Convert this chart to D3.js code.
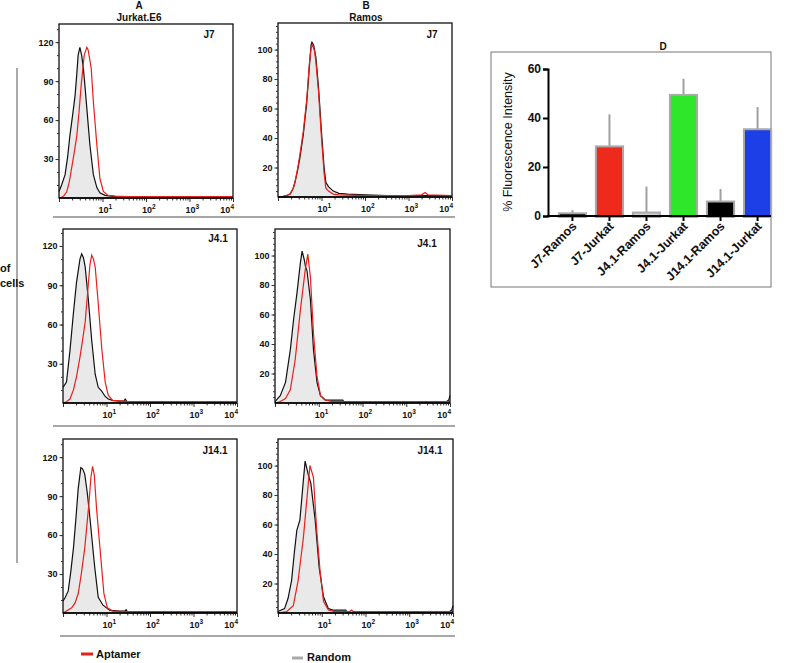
<!DOCTYPE html>
<html><head><meta charset="utf-8">
<script src="https://cdn.jsdelivr.net/npm/d3@7"></script>
<style>body{margin:0;background:#fff} text{font-family:Arial,"Liberation Sans",sans-serif}</style>
</head><body><svg id="c" width="800" height="663"></svg>
<script>
// ---------- DATA ----------
// histogram curves: [log10 fluorescence, number of cells]
const a1Random = [[0,5],[0.06,10],[0.14,18],[0.2,32],[0.25,48],[0.31,63],[0.37,79],[0.41,96],[0.44,110],[0.48,116],[0.52,110],[0.56,100],[0.6,85],[0.64,69],[0.71,41],[0.79,18],[0.87,8],[0.94,4],[1.06,2],[1.2,1.5],[1.3,1],[2,0.5],[4,0.5]];
const a1Aptamer = [[0,0],[0.06,0.5],[0.12,2],[0.18,5],[0.24,13],[0.29,23],[0.35,35],[0.41,48],[0.46,66],[0.51,87],[0.58,110],[0.64,116],[0.67,114],[0.74,100],[0.79,74],[0.87,41],[0.94,15],[1.02,5],[1.13,2],[1.3,1.5],[1.6,1],[4,1]];
const a2Random = [[0,12],[0.08,16],[0.16,40],[0.24,69],[0.31,92],[0.39,110],[0.43,114],[0.47,111],[0.51,104],[0.58,80],[0.66,48],[0.74,22],[0.81,12],[0.89,9],[0.97,5],[1.04,3],[1.14,2],[1.3,1.5],[1.4,1.5],[1.43,3],[1.47,1],[2,0.5],[4,0.5]];
const a2Aptamer = [[0,0],[0.08,1],[0.16,3],[0.24,10],[0.31,20],[0.39,35],[0.45,48],[0.51,62],[0.58,90],[0.62,106],[0.66,113],[0.7,110],[0.74,104],[0.81,76],[0.89,42],[0.97,16],[1.04,6],[1.14,2],[1.5,1],[4,1]];
const a3Random = [[0,9],[0.05,12],[0.12,17],[0.18,32],[0.24,50],[0.3,74],[0.35,96],[0.41,112],[0.45,111],[0.5,107],[0.56,92],[0.62,73],[0.68,52],[0.73,35],[0.81,12],[0.92,6],[1.08,2],[1.3,1.5],[1.42,1.5],[1.45,2.5],[1.48,1],[2,0.5],[4,0.5]];
const a3Aptamer = [[0,0],[0.05,1],[0.2,4],[0.28,8],[0.35,15],[0.42,30],[0.5,50],[0.55,68],[0.6,86],[0.64,104],[0.68,113],[0.72,106],[0.77,81],[0.85,50],[0.94,15],[1.02,4],[1.14,1.5],[1.5,1],[4,1]];
const b1Random = [[0,0],[0.12,0.5],[0.2,1],[0.28,2],[0.35,6],[0.39,10],[0.45,18],[0.5,26],[0.58,42],[0.66,64],[0.72,88],[0.76,103],[0.78,105],[0.82,103],[0.87,95],[0.93,75],[1.0,44],[1.06,20],[1.1,10],[1.16,7],[1.27,4],[1.4,2.5],[1.6,2],[2,1.5],[2.5,1],[3,1],[3.5,1],[4,1]];
const b1Aptamer = [[0,0],[0.12,0.5],[0.2,1],[0.28,2],[0.35,6],[0.39,10],[0.45,19],[0.5,28],[0.58,44],[0.66,66],[0.72,90],[0.76,101],[0.8,103],[0.84,99],[0.87,92],[0.93,72],[1.0,40],[1.06,16],[1.1,6],[1.16,4],[1.27,2],[1.4,1.5],[2,1],[3,1],[3.3,1.5],[3.38,3],[3.45,1.5],[4,1]];
const b2Random = [[0,1],[0.12,5],[0.24,14],[0.35,36],[0.43,58],[0.5,74],[0.58,95],[0.62,103],[0.67,97],[0.7,92],[0.73,90],[0.81,70],[0.88,36],[0.96,14],[1.04,5],[1.15,2],[1.3,2],[1.55,2],[1.58,0.5],[3.9,0.5],[3.97,2],[4,5]];
const b2Aptamer = [[0,0],[0.12,1],[0.24,3],[0.35,9],[0.46,29],[0.58,63],[0.69,90],[0.75,101],[0.81,85],[0.88,47],[0.96,18],[1.04,5],[1.15,2],[1.3,1],[4,1]];
const b3Random = [[0,1],[0.15,3],[0.23,10],[0.31,22],[0.37,40],[0.43,56],[0.5,63],[0.58,90],[0.62,103],[0.69,94],[0.75,88],[0.85,63],[0.94,31],[1.04,11],[1.15,3],[1.26,2],[1.55,2],[1.58,0.5],[3.9,0.5],[3.97,2],[4,5]];
const b3Aptamer = [[0,0],[0.2,1],[0.35,5],[0.46,22],[0.58,51],[0.65,74],[0.73,100],[0.81,92],[0.88,58],[0.96,29],[1.04,8],[1.15,2],[1.3,1],[1.64,1],[1.68,2],[1.72,1],[4,1]];

const histTicksA = [30, 60, 90, 120];
const histTicksB = [20, 40, 60, 80, 100];
const decadeExponents = [1, 2, 3, 4];
const rowTitles = ["J7", "J4.1", "J14.1"];

const barCategories = ["J7-Ramos", "J7-Jurkat", "J4.1-Ramos", "J4.1-Jurkat", "J14.1-Ramos", "J14.1-Jurkat"];
const barValues = [0.7, 28, 1, 49, 5.5, 35];
const barErrors = [1.7, 13.5, 11, 7, 5.5, 9.5];
const barColors = ["#000000", "#ee2a1c", "#cfcfcf", "#2ee62a", "#000000", "#1d3fe8"];
const barTicks = [0, 20, 40, 60];

// ---------- DRAW ----------
const svg = d3.select("#c");
const F = 'Arial,"Liberation Sans",sans-serif';

function histPanel(cfg) {
  const [x0, x1, y0, y1] = cfg.box;
  const x = d3.scaleLog().domain([1, 1e4]).range([x0, x1]);
  const y = d3.scaleLinear().domain([0, cfg.ymax]).range([y1, y0]);
  const g = svg.append("g");
  const area = d3.area().x(d => x(Math.pow(10, d[0]))).y0(y(0)).y1(d => y(d[1]));
  const line = d3.line().x(d => x(Math.pow(10, d[0]))).y(d => y(d[1]));
  g.append("path").datum(cfg.random).attr("d", area).attr("fill", "#e9e9e9");
  g.append("path").datum(cfg.random).attr("d", line).attr("fill", "none").attr("stroke", "#111").attr("stroke-width", 1.2);
  g.append("path").datum(cfg.aptamer).attr("d", line).attr("fill", "none").attr("stroke", "#e8201a").attr("stroke-width", 1.2);
  g.append("rect").attr("x", x0).attr("y", y0).attr("width", x1 - x0).attr("height", y1 - y0)
    .attr("fill", "none").attr("stroke", "#111").attr("stroke-width", 1.3);
  const minor = d3.range(cfg.minorStep, cfg.ymax, cfg.minorStep);
  const ya = g.append("g").attr("transform", `translate(${x0},0)`)
    .call(d3.axisLeft(y).tickValues(minor).tickSize(2).tickFormat(""));
  ya.select(".domain").remove();
  const yb = g.append("g").attr("transform", `translate(${x0},0)`)
    .call(d3.axisLeft(y).tickValues(cfg.ticks).tickSize(3.5).tickPadding(2));
  yb.select(".domain").remove();
  yb.selectAll("text").attr("font-family", F).attr("font-size", 9).attr("font-weight", "bold").attr("fill", "#111");
  const minors = [];
  for (let k = 0; k < 4; k++) for (let m = 2; m <= 9; m++) minors.push(m * Math.pow(10, k));
  const xa = g.append("g").attr("transform", `translate(0,${y1})`)
    .call(d3.axisBottom(x).tickValues(minors).tickSize(2.5).tickFormat(""));
  xa.select(".domain").remove();
  const xb = g.append("g").attr("transform", `translate(0,${y1})`)
    .call(d3.axisBottom(x).tickValues([1, 10, 100, 1000, 10000]).tickSize(4).tickFormat(""));
  xb.select(".domain").remove();
  g.selectAll(".tick line").attr("stroke", "#333");
  g.append("line").attr("x1", x0).attr("x2", x1).attr("y1", y1).attr("y2", y1).attr("stroke", "#000").attr("stroke-width", 1.6);
  decadeExponents.forEach(e => {
    const last = e === 4;
    const t = g.append("text").attr("x", last ? x(Math.pow(10, e)) + 1 : x(Math.pow(10, e)) - 4)
      .attr("y", y1 + 15).attr("text-anchor", last ? "end" : "start")
      .attr("font-family", F).attr("font-size", 9).attr("font-weight", "bold").attr("fill", "#111");
    t.append("tspan").text("10");
    t.append("tspan").attr("dy", -4).attr("font-size", 6.5).text(e);
  });
  g.append("text").attr("x", cfg.labelPos[0]).attr("y", cfg.labelPos[1]).attr("dy", "0.35em")
    .attr("text-anchor", "middle").attr("font-family", F).attr("font-size", 10).attr("font-weight", "bold")
    .attr("fill", "#111").text(cfg.label);
}

const panels = [
  {box: [59, 233, 24, 198], ymax: 134, ticks: histTicksA, minorStep: 10, label: rowTitles[0], labelPos: [209, 34], random: a1Random, aptamer: a1Aptamer},
  {box: [63, 237, 229, 403], ymax: 133, ticks: histTicksA, minorStep: 10, label: rowTitles[1], labelPos: [218, 238], random: a2Random, aptamer: a2Aptamer},
  {box: [63, 237, 439, 613], ymax: 134, ticks: histTicksA, minorStep: 10, label: rowTitles[2], labelPos: [215, 450], random: a3Random, aptamer: a3Aptamer},
  {box: [278, 452, 23, 197], ymax: 118, ticks: histTicksB, minorStep: 4, label: rowTitles[0], labelPos: [432, 34], random: b1Random, aptamer: b1Aptamer},
  {box: [275, 450, 229, 403], ymax: 118, ticks: histTicksB, minorStep: 4, label: rowTitles[1], labelPos: [427, 243], random: b2Random, aptamer: b2Aptamer},
  {box: [278, 453, 439, 613], ymax: 118, ticks: histTicksB, minorStep: 4, label: rowTitles[2], labelPos: [430, 450], random: b3Random, aptamer: b3Aptamer}
];
panels.forEach(histPanel);

function txt(x, y, s, size, weight, anchor) {
  return svg.append("text").attr("x", x).attr("y", y).attr("text-anchor", anchor || "middle")
    .attr("font-family", F).attr("font-size", size).attr("font-weight", weight || "bold").attr("fill", "#111").text(s);
}
txt(139, 9, "A", 10);
txt(139, 21, "Jurkat.E6", 10);
txt(366, 9, "B", 10);
txt(366, 21, "Ramos", 10);

[[53, 455, 217], [53, 455, 426], [60, 455, 636]].forEach(s =>
  svg.append("line").attr("x1", s[0]).attr("x2", s[1]).attr("y1", s[2]).attr("y2", s[2]).attr("stroke", "#8a8a8a").attr("stroke-width", 1.5));

svg.append("line").attr("x1", 17).attr("x2", 17).attr("y1", 68).attr("y2", 563).attr("stroke", "#555").attr("stroke-width", 1);
txt(0, 272, "of", 11, "bold", "start");
txt(0, 287, "cells", 11, "bold", "start");

svg.append("line").attr("x1", 81).attr("x2", 93).attr("y1", 654).attr("y2", 654).attr("stroke", "#e8201a").attr("stroke-width", 3);
txt(96, 658, "Aptamer", 11, "bold", "start");
svg.append("line").attr("x1", 292).attr("x2", 303).attr("y1", 658).attr("y2", 658).attr("stroke", "#aaa").attr("stroke-width", 3);
txt(307, 661, "Random", 11, "bold", "start");

// ---------- panel D ----------
svg.append("rect").attr("x", 491).attr("y", 52).attr("width", 280).attr("height", 235)
  .attr("fill", "none").attr("stroke", "#777").attr("stroke-width", 1);
txt(663, 50, "D", 10);
const bx = d3.scaleBand().domain(barCategories).range([548, 782]).paddingInner(0.32).paddingOuter(0.32);
const by = d3.scaleLinear().domain([0, 60]).range([216, 69]);
const dg = svg.append("g");
dg.selectAll("line.err").data(barCategories).enter().append("line")
  .attr("x1", d => bx(d) + bx.bandwidth() / 2).attr("x2", d => bx(d) + bx.bandwidth() / 2)
  .attr("y1", (d, i) => by(barValues[i])).attr("y2", (d, i) => by(barValues[i] + barErrors[i]))
  .attr("stroke", "#a0a0a0").attr("stroke-width", 2);
dg.selectAll("rect.bar").data(barCategories).enter().append("rect")
  .attr("x", d => bx(d)).attr("width", bx.bandwidth())
  .attr("y", (d, i) => by(barValues[i])).attr("height", (d, i) => by(0) - by(barValues[i]))
  .attr("fill", (d, i) => barColors[i]).attr("stroke", "#aaaaaa").attr("stroke-width", 4)
  .style("paint-order", "stroke");
const dya = dg.append("g").attr("transform", "translate(548,0)")
  .call(d3.axisLeft(by).tickValues(barTicks).tickSize(5).tickPadding(2));
dya.select(".domain").attr("stroke-width", 2);
dya.selectAll(".tick line").attr("stroke-width", 2);
dya.selectAll("text").attr("font-family", F).attr("font-size", 12).attr("font-weight", "bold").attr("fill", "#111");
const dxa = dg.append("g").attr("transform", "translate(0,216)")
  .call(d3.axisBottom(bx).tickSize(5).tickFormat(""));
dxa.select(".domain").remove();
dxa.selectAll(".tick line").attr("stroke-width", 2);
dg.append("line").attr("x1", 547).attr("x2", 771).attr("y1", 216).attr("y2", 216).attr("stroke", "#000").attr("stroke-width", 2);
dg.selectAll("text.cat").data(barCategories).enter().append("text")
  .attr("transform", d => `translate(${bx(d) + bx.bandwidth() / 2 + 5},${227}) rotate(-45)`)
  .attr("text-anchor", "end").attr("font-family", F).attr("font-size", 12.5).attr("font-weight", "bold").attr("fill", "#111")
  .text(d => d);
svg.append("text").attr("transform", "translate(512,142) rotate(-90)").attr("text-anchor", "middle")
  .attr("font-family", F).attr("font-size", 12.5).attr("fill", "#111").text("% Fluorescence Intensity");
</script></body></html>
